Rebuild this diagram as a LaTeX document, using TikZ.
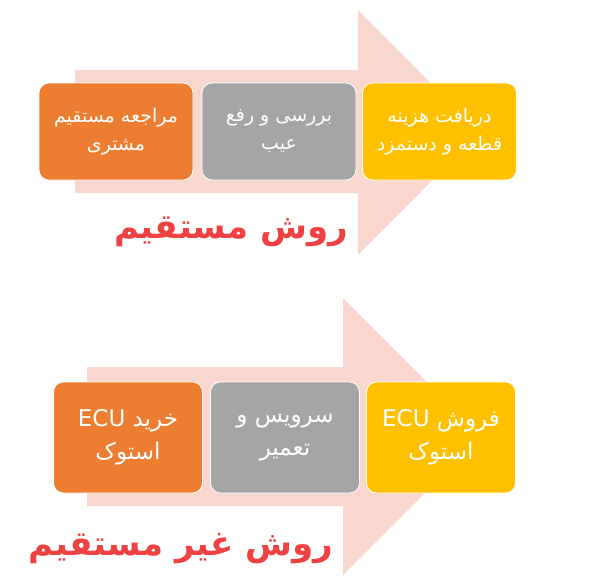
\documentclass[tikz,border=0pt]{standalone}
\usepackage{fontspec}
\newfontfamily\arabicfont[Script=Arabic]{DejaVu Sans}
\TeXXeTstate=1
\newcommand{\rtltext}[1]{\beginR #1\endR}
\newcommand{\ltrtext}[1]{\beginL #1\endL}
\definecolor{boxorange}{HTML}{ED7D31}
\definecolor{boxgray}{HTML}{A5A5A5}
\definecolor{boxyellow}{HTML}{FFC000}
\definecolor{arrowpink}{HTML}{F8D8CE}
\definecolor{titlered}{HTML}{EE4141}

\begin{document}
\begin{tikzpicture}[
        x=1pt, y=-1pt,
        bgarrow/.style={fill=arrowpink},
        stage/.style={rectangle, draw=white, line width=0.8pt, rounded corners=10pt, align=center, text=white, inner sep=0pt},
        stagetop/.style={stage, minimum width=154pt, minimum height=97pt, font=\arabicfont\fontsize{19}{28}\selectfont},
        stagebot/.style={stage, minimum width=149pt, minimum height=111pt, font=\arabicfont\fontsize{23}{33}\selectfont},
        method/.style={text=titlered, inner sep=0pt, font=\arabicfont\bfseries\fontsize{34}{40}\selectfont}
    ]
    \useasboundingbox (0,0) rectangle (600,582);

    % Top: background arrow
    \fill[bgarrow] (75,70) -- (358,70) -- (358,10) -- (480,132.5) -- (358,255) -- (358,193) -- (75,193) -- cycle;

    % Top: direct method stages
    \node[stagetop, fill=boxorange] (visit) at (116,131.5) {\rtltext{مراجعه مستقیم}\\\rtltext{مشتری}};
    \node[stagetop, fill=boxgray] (repair) at (279,131.5) {\rtltext{بررسی و رفع}\\\rtltext{عیب}};
    \node[stagetop, fill=boxyellow] (payment) at (439.5,131.5) {\rtltext{دریافت هزینه}\\\rtltext{قطعه و دستمزد}};

    % Top: title
    \node[method] (direct) at (231,232) {\rtltext{روش مستقیم}};

    % Bottom: background arrow
    \fill[bgarrow] (87,367) -- (343,367) -- (343,298) -- (481.5,436.5) -- (343,575) -- (343,506) -- (87,506) -- cycle;

    % Bottom: indirect method stages
    \node[stagebot, fill=boxorange] (buy) at (128,437.5) {\rtltext{خرید \ltrtext{ECU}}\\\rtltext{استوک}};
    \node[stagebot, fill=boxgray] (service) at (285,437.5) {\rtltext{سرویس و}\\\rtltext{تعمیر}};
    \node[stagebot, fill=boxyellow] (sell) at (441,437.5) {\rtltext{فروش \ltrtext{ECU}}\\\rtltext{استوک}};

    % Bottom: title
    \node[method] (indirect) at (181,549) {\rtltext{روش غیر مستقیم}};

\end{tikzpicture}
\end{document}
